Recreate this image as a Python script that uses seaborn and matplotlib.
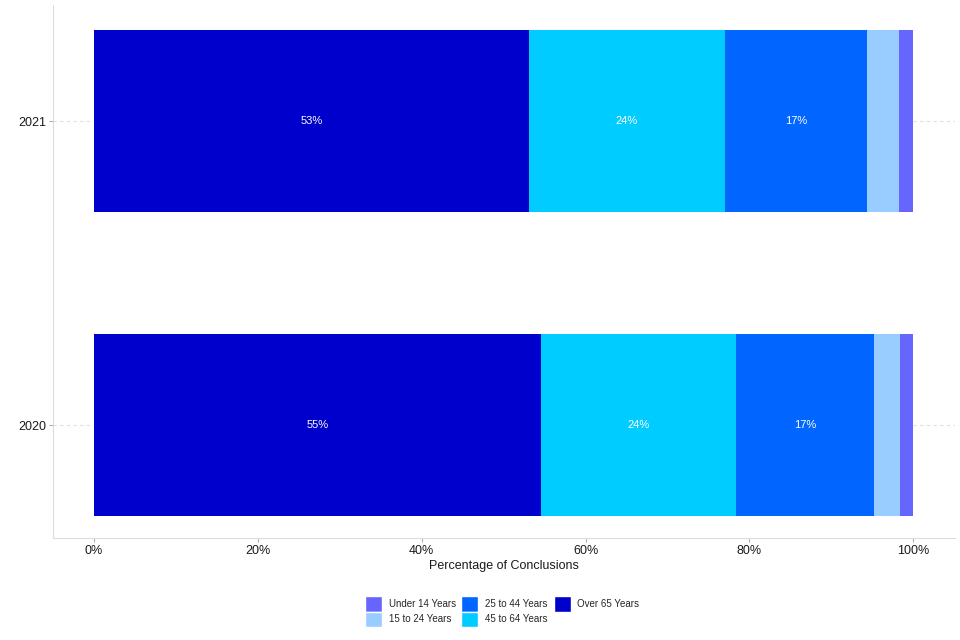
import numpy as np
import pandas as pd
import seaborn as sns
import matplotlib.pyplot as plt
from matplotlib.patches import Patch

# Data (percent of conclusions)
years = ['2021', '2020']
groups = ['Over 65 Years', '45 to 64 Years', '25 to 44 Years', '15 to 24 Years', 'Under 14 Years']
over_65 = [53.1, 54.6]
age_45_64 = [23.9, 23.8]
age_25_44 = [17.4, 16.8]
age_15_24 = [3.9, 3.2]
under_14 = [1.7, 1.6]
colors = ['#0000CC', '#00CCFF', '#0066FF', '#99CCFF', '#6666FF']

sns.set_theme(style='white')
plt.rcParams['font.family'] = ['Liberation Sans', 'DejaVu Sans']

df = pd.DataFrame({'year': years, 'Over 65 Years': over_65, '45 to 64 Years': age_45_64,
                   '25 to 44 Years': age_25_44, '15 to 24 Years': age_15_24,
                   'Under 14 Years': under_14})
cum = df[groups].cumsum(axis=1)

fig = plt.figure(figsize=(9.6, 6.4), dpi=100)
ax = fig.add_axes([0.0552, 0.159, 0.9396, 0.833])

# draw from the full stack down so each shorter layer sits on top
for g, c in reversed(list(zip(groups, colors))):
    sns.barplot(x=cum[g], y=df['year'], order=years, color=c, width=0.6,
                orient='h', saturation=1, linewidth=0, ax=ax, zorder=2)

# segment labels
for i, yr in enumerate(years):
    left = 0
    for g in groups:
        v = df.loc[i, g]
        if v >= 10:
            ax.text(left + v / 2, i, f'{round(v):.0f}%', color='white',
                    ha='center', va='center', fontsize=8, zorder=3)
        left += v

ax.set_xlim(-5, 105.1)
ax.set_ylim(1.372, -0.382)
ax.set_xticks([0, 20, 40, 60, 80, 100])
ax.set_xticklabels(['0%', '20%', '40%', '60%', '80%', '100%'])
ax.set_xlabel('Percentage of Conclusions', fontsize=9, color='#1a1a1a', labelpad=2)
ax.set_ylabel('')
ax.tick_params(axis='both', labelsize=9, colors='#1a1a1a', length=3, width=0.8,
               color='#b0b0b0', pad=2, bottom=True, left=True)
for yv in range(len(years)):
    ax.axhline(yv, color='#e0e0e0', linestyle=(0, (3, 3)), linewidth=0.8, zorder=0)

for s in ['top', 'right']:
    ax.spines[s].set_visible(False)
for s in ['left', 'bottom']:
    ax.spines[s].set_color('#dcdcdc')
    ax.spines[s].set_linewidth(0.8)

legend_order = ['Under 14 Years', '15 to 24 Years', '25 to 44 Years', '45 to 64 Years', 'Over 65 Years']
handles = [Patch(facecolor=colors[groups.index(g)], label=g) for g in legend_order]
fig.legend(handles=handles, loc='center', bbox_to_anchor=(0.523, 0.0445), ncol=3,
           frameon=False, fontsize=7, handlelength=1.75, handleheight=2.0,
           columnspacing=0.6, handletextpad=0.7, labelspacing=0.0)

fig.savefig('out.png', dpi=100)
